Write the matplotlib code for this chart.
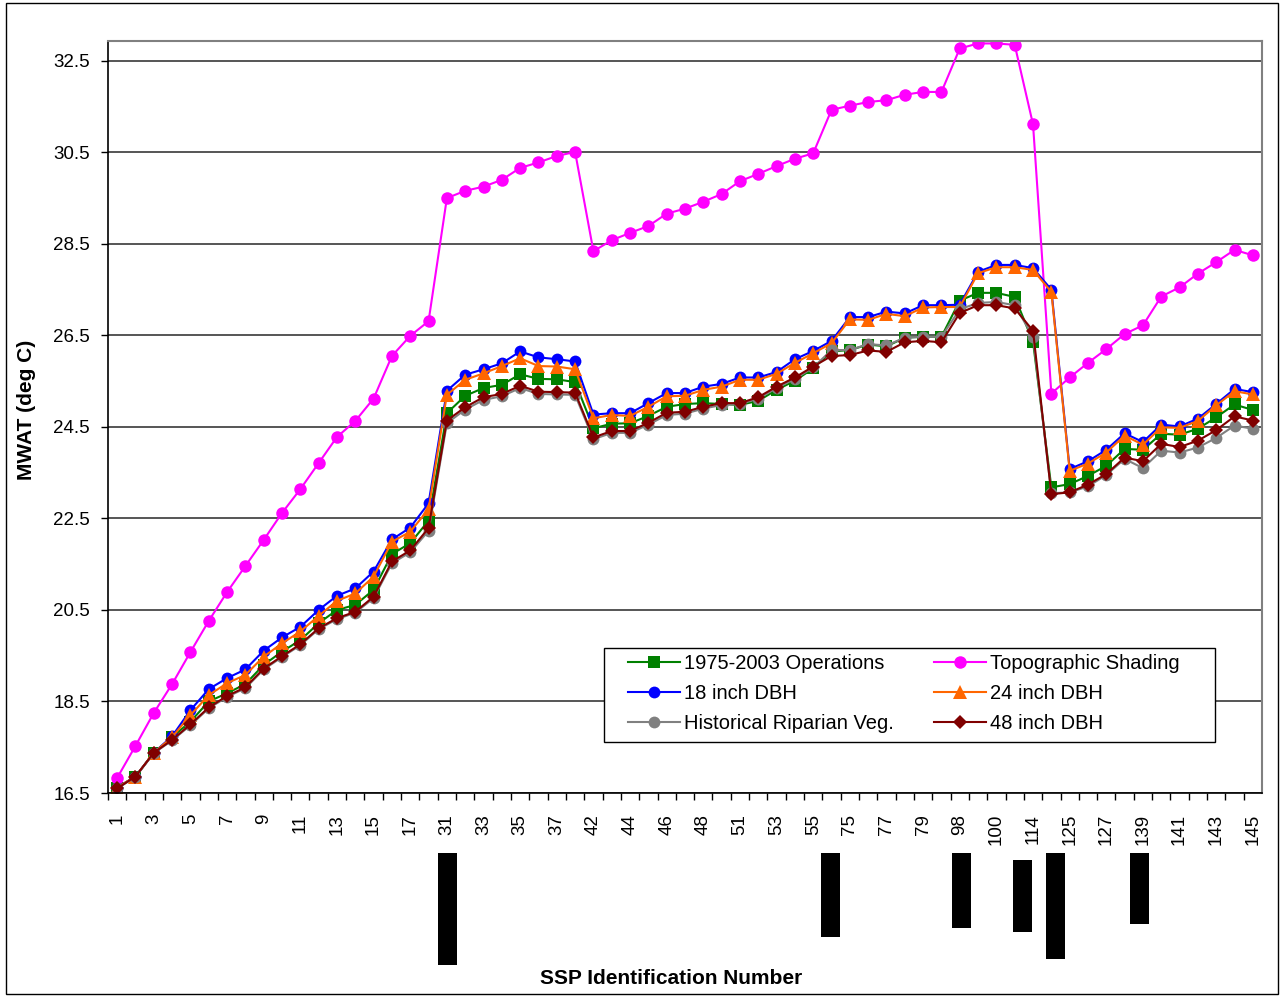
import matplotlib

matplotlib.use("Agg")
import matplotlib.pyplot as plt
from matplotlib.patches import Rectangle

plt.rcParams["font.family"] = ["Liberation Sans", "DejaVu Sans"]

# SSP identification numbers along the river (category axis)
SSP_IDS = [1, 2, 3, 4, 5, 6, 7, 8, 9, 10, 11, 12, 13, 14, 15, 16, 17, 18,
           31, 32, 33, 34, 35, 36, 37, 38,
           42, 43, 44, 45, 46, 47, 48, 49,
           51, 52, 53, 54, 55, 56,
           75, 76, 77, 78, 79, 80,
           98, 99, 100, 101,
           114, 115,
           125, 126, 127, 128,
           139, 140, 141, 142, 143, 144, 145]

OPERATIONS = [16.62, 16.86, 17.38, 17.72, 18.06, 18.50, 18.68, 18.88, 19.30, 19.59, 19.84, 20.21, 20.50, 20.61, 20.94, 21.72, 21.96, 22.45,
              24.80, 25.18, 25.35, 25.42, 25.65, 25.55, 25.54, 25.48,
              24.47, 24.57, 24.58, 24.74, 24.94, 25.00, 25.02, 25.00,
              24.98, 25.07, 25.31, 25.51, 25.78, 26.15,
              26.18, 26.30, 26.26, 26.45, 26.47, 26.47,
              27.26, 27.43, 27.43, 27.34,
              26.36, 23.18,
              23.25, 23.43, 23.65, 24.02,
              24.00, 24.35, 24.33, 24.46, 24.71, 24.99, 24.87]

TOPO_SHADING = [16.83, 17.53, 18.25, 18.88, 19.58, 20.26, 20.89, 21.46, 22.03, 22.62, 23.14, 23.71, 24.28, 24.63, 25.12, 26.05, 26.49, 26.81,
                29.50, 29.66, 29.75, 29.90, 30.16, 30.28, 30.42, 30.51,
                28.34, 28.58, 28.74, 28.89, 29.16, 29.27, 29.42, 29.59,
                29.87, 30.03, 30.20, 30.36, 30.48, 31.43,
                31.52, 31.60, 31.64, 31.76, 31.82, 31.82,
                32.77, 32.88, 32.88, 32.85,
                31.11, 25.23,
                25.58, 25.90, 26.20, 26.53,
                26.72, 27.35, 27.55, 27.85, 28.10, 28.37, 28.25]

DBH_18 = [16.62, 16.86, 17.38, 17.74, 18.31, 18.77, 19.01, 19.20, 19.61, 19.90, 20.13, 20.50, 20.81, 20.97, 21.34, 22.04, 22.30, 22.83,
          25.29, 25.64, 25.76, 25.89, 26.15, 26.02, 25.98, 25.93,
          24.77, 24.80, 24.80, 25.02, 25.24, 25.24, 25.38, 25.44,
          25.58, 25.58, 25.70, 25.98, 26.16, 26.38,
          26.90, 26.90, 27.02, 26.98, 27.16, 27.16,
          27.17, 27.89, 28.04, 28.04,
          27.97, 27.50,
          23.58, 23.75, 24.00, 24.36,
          24.17, 24.55, 24.51, 24.68, 25.00, 25.33, 25.26]

DBH_24 = [16.62, 16.86, 17.38, 17.72, 18.20, 18.64, 18.90, 19.08, 19.48, 19.77, 20.03, 20.37, 20.70, 20.86, 21.23, 21.99, 22.21, 22.70,
          25.20, 25.53, 25.67, 25.83, 26.00, 25.83, 25.82, 25.76,
          24.69, 24.76, 24.74, 24.94, 25.17, 25.18, 25.31, 25.38,
          25.53, 25.53, 25.66, 25.90, 26.11, 26.33,
          26.85, 26.84, 26.97, 26.92, 27.11, 27.12,
          27.12, 27.86, 27.99, 27.99,
          27.93, 27.45,
          23.54, 23.70, 23.94, 24.31,
          24.11, 24.49, 24.48, 24.63, 24.97, 25.28, 25.21]

HISTORICAL = [16.60, 16.85, 17.37, 17.65, 17.98, 18.35, 18.60, 18.79, 19.20, 19.47, 19.73, 20.08, 20.30, 20.44, 20.76, 21.52, 21.76, 22.23,
              24.58, 24.88, 25.09, 25.17, 25.35, 25.22, 25.21, 25.20,
              24.23, 24.37, 24.37, 24.55, 24.76, 24.79, 24.90, 24.98,
              25.00, 25.12, 25.35, 25.55, 25.80, 26.18,
              26.18, 26.31, 26.28, 26.45, 26.47, 26.47,
              27.07, 27.21, 27.23, 27.16,
              26.47, 23.05,
              23.07, 23.20, 23.45, 23.80,
              23.60, 23.98, 23.94, 24.05, 24.26, 24.53, 24.46]

DBH_48 = [16.60, 16.86, 17.38, 17.66, 18.00, 18.37, 18.62, 18.81, 19.22, 19.49, 19.75, 20.10, 20.32, 20.46, 20.79, 21.56, 21.80, 22.29,
          24.64, 24.93, 25.15, 25.22, 25.40, 25.27, 25.26, 25.25,
          24.27, 24.41, 24.41, 24.59, 24.81, 24.83, 24.94, 25.02,
          25.02, 25.15, 25.38, 25.58, 25.82, 26.05,
          26.07, 26.17, 26.14, 26.35, 26.38, 26.35,
          26.99, 27.16, 27.16, 27.09,
          26.60, 23.03,
          23.07, 23.24, 23.47, 23.83,
          23.75, 24.13, 24.06, 24.20, 24.43, 24.73, 24.64]

# black marker bars under the axis: category position and length (as drawn)
MARK_POS = [18.03, 38.94, 46.09, 49.44, 51.22, 55.80]
MARK_TOP = [0, 0, 0, 7, 0, 0]
MARK_LEN = [112, 84, 75, 79, 106, 71]

Y_TICKS = [16.5, 18.5, 20.5, 22.5, 24.5, 26.5, 28.5, 30.5, 32.5]

fig = plt.figure(figsize=(12.88, 10.0), dpi=100)
ax = fig.add_axes([108 / 1288, 207 / 1000, 1154 / 1288, 752.3 / 1000])

x = list(range(len(SSP_IDS)))
series = [
    ("1975-2003 Operations", OPERATIONS, "#008000", "s", 8.0, 1.5),
    ("Topographic Shading", TOPO_SHADING, "#FF00FF", "o", 9.0, 1.5),
    ("18 inch DBH", DBH_18, "#0000FF", "o", 8.5, 1.5),
    ("24 inch DBH", DBH_24, "#FF6600", "^", 9.5, 1.5),
    ("Historical Riparian Veg.", HISTORICAL, "#808080", "o", 8.5, 1.5),
    ("48 inch DBH", DBH_48, "#800000", "D", 7.5, 1.5),
]
handles = {}
for label, vals, color, marker, ms, lw in series:
    (h,) = ax.plot(x, vals, color=color, marker=marker, markersize=ms,
                   markeredgewidth=0, linewidth=lw, label=label)
    handles[label] = h

ax.set_xlim(-0.5, len(SSP_IDS) - 0.5)
ax.set_ylim(16.5, 32.94)
ax.set_yticks(Y_TICKS)
ax.set_yticklabels([f"{v:.1f}" for v in Y_TICKS])
ax.yaxis.grid(True, color="#555555", linewidth=1.4)
ax.set_axisbelow(True)

ax.set_xticks(x[::2])
ax.set_xticklabels([str(s) for s in SSP_IDS[::2]], rotation=90, va="top")
ax.set_xticks([i + 0.5 for i in x[:-1]] + [-0.5], minor=True)
ax.tick_params(axis="x", which="major", length=0, pad=15, labelsize=13.5)
ax.tick_params(axis="x", which="minor", length=5, width=1, direction="out")
ax.tick_params(axis="y", length=5, width=1, pad=8, labelsize=13.5)

for side in ["top", "right"]:
    ax.spines[side].set_color("#808080")
    ax.spines[side].set_linewidth(1.5)
for side in ["left", "bottom"]:
    ax.spines[side].set_color("black")
    ax.spines[side].set_linewidth(1.2)

# legend: Excel-style box drawn separately so its padding can match
order = ["1975-2003 Operations", "18 inch DBH", "Historical Riparian Veg.",
         "Topographic Shading", "24 inch DBH", "48 inch DBH"]
leg = ax.legend([handles[k] for k in order], order, ncol=2, loc="upper left",
                bbox_to_anchor=((628 - 108) / 1154, (793 - 654) / 752.3),
                fontsize=14.5, frameon=False, borderpad=0, borderaxespad=0,
                handlelength=2.6, handletextpad=0.2, columnspacing=1.95,
                labelspacing=0.55)
leg.set_zorder(5)
ax.add_patch(Rectangle(((604 - 108) / 1154, (793 - 742) / 752.3),
                       (1215 - 604) / 1154, (742 - 648) / 752.3,
                       transform=ax.transAxes, facecolor="white",
                       edgecolor="black", linewidth=1.0, zorder=4))

# marker bars below the category axis
ax_bars = fig.add_axes([108 / 1288, 35 / 1000, 1154 / 1288, 112 / 1000], sharex=ax)
ax_bars.set_ylim(112, 0)
ax_bars.axis("off")
for pos, top, length in zip(MARK_POS, MARK_TOP, MARK_LEN):
    ax_bars.add_patch(Rectangle((pos - 0.52, top), 1.04, length - top,
                                facecolor="black", edgecolor="none"))

fig.text(671 / 1288, 1 - 978 / 1000, "SSP Identification Number",
         ha="center", va="center", fontsize=15, fontweight="bold")
fig.text(27 / 1288, 1 - 410 / 1000, "MWAT (deg C)", rotation=90,
         ha="center", va="center", fontsize=15, fontweight="bold")

fig.add_artist(Rectangle((6 / 1288, 6 / 1000), 1272 / 1288, 991 / 1000,
                         transform=fig.transFigure, fill=False,
                         edgecolor="black", linewidth=1.0))

fig.savefig("out.png", dpi=100)
